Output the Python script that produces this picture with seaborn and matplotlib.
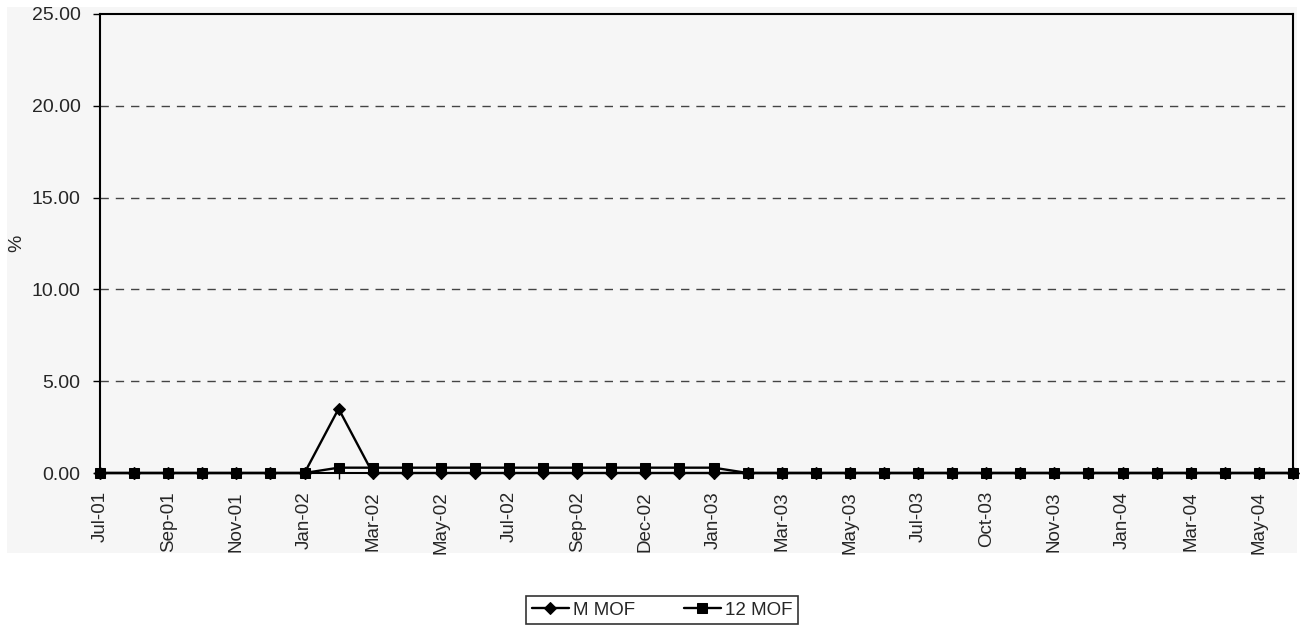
import matplotlib
matplotlib.use("Agg")
import matplotlib.pyplot as plt
from matplotlib.patches import Rectangle
import numpy as np
import pandas as pd
import seaborn as sns

# Monthly series (36 reporting periods), values in %
m_mof = [0.00, 0.00, 0.00, 0.00, 0.00, 0.00, 0.00, 3.50, 0.00, 0.00,
         0.00, 0.00, 0.00, 0.00, 0.00, 0.00, 0.00, 0.00, 0.00, 0.00,
         0.00, 0.00, 0.00, 0.00, 0.00, 0.00, 0.00, 0.00, 0.00, 0.00,
         0.00, 0.00, 0.00, 0.00, 0.00, 0.00]
mof_12 = [0.00, 0.00, 0.00, 0.00, 0.00, 0.00, 0.00, 0.29, 0.29, 0.29,
          0.29, 0.29, 0.29, 0.29, 0.29, 0.29, 0.29, 0.29, 0.29, 0.00,
          0.00, 0.00, 0.00, 0.00, 0.00, 0.00, 0.00, 0.00, 0.00, 0.00,
          0.00, 0.00, 0.00, 0.00, 0.00, 0.00]

# Labels shown on every second period
tick_labels = ["Jul-01", "Sep-01", "Nov-01", "Jan-02", "Mar-02", "May-02",
               "Jul-02", "Sep-02", "Dec-02", "Jan-03", "Mar-03", "May-03",
               "Jul-03", "Oct-03", "Nov-03", "Jan-04", "Mar-04", "May-04"]

y_ticks = [0, 5, 10, 15, 20, 25]

series_names = ["M MOF", "12 MOF"]

sns.set_style("white")
plt.rcParams["font.family"] = ["Liberation Sans", "DejaVu Sans"]

W, H = 1311, 628
fig = plt.figure(figsize=(W / 100, H / 100), dpi=100, facecolor="white")

panel = "#f6f6f6"
fig.patches.append(Rectangle((7 / W, 1 - 553 / H), (1297 - 7) / W, (553 - 7) / H,
                             transform=fig.transFigure, facecolor=panel,
                             edgecolor="none", zorder=-5))

ax = fig.add_axes([100 / W, 1 - 473 / H, (1293 - 100) / W, (473 - 14) / H])
ax.set_facecolor(panel)

x = np.arange(len(m_mof))
df = pd.DataFrame({"period": x, "M MOF": m_mof, "12 MOF": mof_12})

sns.lineplot(data=df, x="period", y="M MOF", ax=ax, color="black", lw=1.7,
             marker="D", markersize=6.5, markeredgecolor="black",
             label=series_names[0], zorder=3, clip_on=False)
sns.lineplot(data=df, x="period", y="12 MOF", ax=ax, color="black", lw=1.7,
             marker="s", markersize=7.5, markeredgecolor="black",
             label=series_names[1], zorder=4, clip_on=False)

ax.set_xlim(0, len(m_mof) - 1)
ax.set_ylim(0, 25)
ax.set_yticks(y_ticks)
ax.set_yticklabels([f"{v:.2f}" for v in y_ticks], fontsize=14)
ax.set_xticks(x[::2])
ax.set_xticklabels(tick_labels, rotation=90, fontsize=13.5)
ax.set_xticks(x, minor=True)
ax.tick_params(axis="x", which="both", direction="out", length=4, width=1,
               color="black", pad=9, bottom=True)
ax.tick_params(axis="y", direction="out", length=5, width=1, color="black",
               pad=9, left=True)

ax.set_xlabel("")
ax.set_ylabel("%", fontsize=14)
ax.yaxis.set_label_coords(-0.063, 0.5)

for yv in y_ticks[1:-1]:
    ax.axhline(yv, color="#444444", lw=1.0, ls=(0, (6, 5)), zorder=1)

for s in ax.spines.values():
    s.set_visible(True)
    s.set_color("black")
    s.set_linewidth(1.5)

ax.get_legend().remove()
handles, labels = ax.get_legend_handles_labels()
leg = fig.legend(handles, labels, loc="center", ncol=2,
                 bbox_to_anchor=(662 / W, 1 - 610 / H), fontsize=13.5,
                 frameon=True, fancybox=False, edgecolor="black",
                 handlelength=2.0, handletextpad=0.2, columnspacing=2.6,
                 borderpad=0.3)
leg.get_frame().set_linewidth(1.2)
leg.get_frame().set_facecolor("white")

fig.savefig("out.png", dpi=100, facecolor="white")
